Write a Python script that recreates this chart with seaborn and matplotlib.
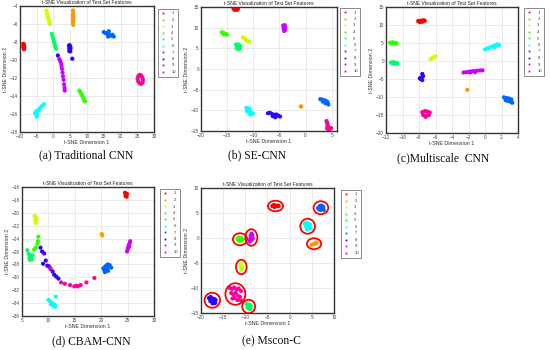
import numpy as np
import pandas as pd
import matplotlib
matplotlib.use("Agg")
import matplotlib.pyplot as plt
from matplotlib.patches import Ellipse
from matplotlib.lines import Line2D
import seaborn as sns

sns.set_theme(style="white")
plt.rcParams['font.family'] = ['Liberation Sans', 'DejaVu Sans']

class_labels = ['1', '2', '3', '4', '5', '6', '7', '8', '9', '10']
class_colors = ['#ff0000', '#ff9900', '#ccff00', '#33ff00', '#00ff66',
                '#00ffff', '#0066ff', '#3300ff', '#cc00ff', '#ff0099']

panel_titles = ['(a) Traditional CNN', '(b) SE-CNN', '(c)Multiscale  CNN', '(d) CBAM-CNN', '(e) Mscon-C']
plot_title = 't-SNE Visualization of Test Set Features'
x_label = 't-SNE Dimension 1'
y_label = 't-SNE Dimension 2'

# ---------- (a) Traditional CNN ----------
trad_x = [
    [-9.0, -8.8, -8.9, -8.7, -9.0, -8.8, -8.9],
    [5.8, 5.9, 5.8, 5.9, 5.8, 5.9, 5.8, 5.9],
    [-2.1, -2.0, -1.85, -1.7, -1.55, -1.4, -1.25, -1.1],
    [7.7, 7.95, 8.2, 8.45, 8.7, 8.95, 9.2, 9.4],
    [-0.5, -0.3, -0.1, 0.05, 0.2, 0.35, 0.5, 0.7],
    [-5.5, -5.2, -4.9, -4.6, -5.1, -4.8, -4.3, -3.9, -3.4, -2.8, -5.0],
    [15.0, 15.5, 16.0, 16.5, 16.8, 17.2, 17.6, 18.0, 16.3],
    [4.6, 4.8, 5.0, 4.7, 4.9, 5.1, 4.7, 5.0, 1.3, 5.6],
    [1.75, 2.0, 2.3, 2.4, 2.55, 2.7, 2.85, 3.0, 3.15, 3.3, 3.35],
    [25.1, 25.3, 25.7, 26.1, 26.5, 26.7, 26.6, 26.2, 25.8, 25.3],
]
trad_y = [
    [-8.2, -8.3, -8.5, -8.6, -8.6, -8.8, -8.4],
    [-4.5, -4.8, -5.0, -5.2, -5.4, -5.6, -5.8, -6.1],
    [-4.5, -4.7, -4.95, -5.2, -5.4, -5.6, -5.8, -6.0],
    [-13.4, -13.55, -13.7, -13.85, -14.05, -14.25, -14.45, -14.6],
    [-7.1, -7.35, -7.6, -7.85, -8.05, -8.25, -8.5, -8.75],
    [-15.9, -15.7, -15.8, -15.6, -16.1, -16.0, -15.5, -15.3, -15.1, -14.9, -16.3],
    [-6.9, -7.0, -7.1, -6.8, -7.2, -7.3, -7.2, -7.4, -7.4],
    [-8.4, -8.35, -8.5, -8.7, -8.8, -8.7, -9.0, -9.05, -9.5, -9.85],
    [-9.9, -10.1, -10.4, -10.7, -11.0, -11.4, -11.8, -12.2, -12.7, -13.1, -13.4],
    [-12.1, -11.8, -11.65, -11.7, -11.9, -12.2, -12.5, -12.65, -12.6, -12.4],
]

# ---------- (b) SE-CNN ----------
se_x = [
    [-13.8, -13.5, -13.2, -12.95, -13.6, -13.1],
    [-0.9, -0.85],
    [-12.0, -11.8, -11.6, -11.4, -11.2, -11.0, -10.8, -11.5],
    [-16.0, -15.8, -15.6, -15.4, -15.2, -15.0, -15.7],
    [-13.3, -13.0, -12.7, -12.5, -13.2, -12.9, -12.6, -13.0],
    [-11.3, -11.0, -10.7, -11.2, -10.8, -10.4, -10.1, -10.6],
    [2.8, 3.2, 3.6, 3.9, 4.2, 3.3, 3.8, 4.35],
    [-7.2, -6.8, -6.4, -6.0, -5.6, -5.2, -4.9, -6.3, -5.8],
    [-4.3, -4.0, -3.9, -4.2, -3.9, -4.1],
    [4.0, 4.1, 4.2, 4.2, 4.4, 4.1, 4.6, 4.9, 4.5],
]
se_y = [
    [14.7, 14.8, 14.7, 14.5, 14.3, 14.3],
    [-9.1, -9.05],
    [7.7, 7.5, 7.3, 7.1, 6.9, 6.7, 6.6, 7.0],
    [8.9, 8.8, 8.6, 8.5, 8.4, 8.3, 8.4],
    [5.9, 6.0, 5.8, 5.4, 5.1, 4.8, 4.9, 5.4],
    [-9.4, -9.5, -9.7, -10.2, -10.3, -10.5, -10.8, -11.0],
    [-7.3, -7.4, -7.6, -7.7, -8.0, -7.9, -8.3, -8.6],
    [-10.7, -10.6, -10.9, -11.1, -11.0, -11.3, -11.5, -11.4, -11.7],
    [10.5, 10.6, 10.1, 9.8, 9.5, 9.2],
    [-12.6, -13.0, -13.4, -13.8, -14.1, -14.4, -14.5, -14.3, -14.8],
]

# ---------- (c) Multiscale CNN ----------
ms_x = [
    [-8.1, -7.8, -7.5, -7.3, -7.9, -7.6],
    [-2.15],
    [-6.6, -6.4, -6.2, -6.0],
    [-11.5, -11.2, -10.9, -10.7, -11.3, -10.9],
    [-11.4, -11.1, -10.8, -10.6, -11.2, -10.9],
    [0.0, 0.3, 0.6, 0.9, 1.1, 1.3, 1.5, 1.7, 1.2],
    [2.3, 2.6, 2.9, 3.2, 2.5, 2.8, 3.1, 3.3],
    [-7.6, -7.5, -7.7, -7.8, -7.6, -7.9],
    [-2.6, -2.3, -2.0, -1.7, -1.4, -1.0, -0.6, -0.3, -1.8, -1.2],
    [-7.6, -7.3, -7.0, -6.7, -7.5, -7.1, -6.8, -7.2],
]
ms_y = [
    [11.1, 11.2, 11.3, 11.2, 10.8, 10.9],
    [-8.0],
    [0.5, 0.8, 1.0, 1.3],
    [5.1, 5.2, 5.0, 4.9, 4.8, 4.8],
    [-0.4, -0.3, -0.5, -0.7, -0.7, -0.8],
    [3.2, 3.5, 3.8, 4.0, 4.2, 4.4, 4.6, 4.4, 3.9],
    [-10.1, -10.3, -10.4, -10.7, -10.9, -11.1, -11.3, -11.6],
    [-3.6, -4.2, -4.6, -5.0, -5.3, -4.8],
    [-3.2, -3.1, -3.0, -2.9, -2.8, -2.7, -2.6, -2.6, -3.2, -3.1],
    [-14.2, -13.9, -14.0, -14.3, -15.0, -15.2, -15.0, -15.5],
]

# ---------- (d) CBAM-CNN ----------
cbam_x = [
    [24.5, 24.7, 24.9, 24.6, 24.8],
    [20.1, 20.2],
    [7.4, 7.6, 7.8, 7.5, 7.7, 7.6],
    [8.1, 8.0, 7.9, 7.6, 7.3],
    [6.0, 6.3, 6.5, 6.8, 7.0, 6.4, 6.7, 6.9, 6.5],
    [10.0, 10.3, 10.6, 10.9, 11.2, 10.5, 10.9, 11.3, 11.4],
    [20.4, 20.8, 21.2, 21.6, 20.6, 21.0, 21.4, 21.9, 20.7, 21.3],
    [8.5, 8.8, 9.2, 9.5, 9.0, 9.8, 10.1, 10.4, 10.8, 11.1, 11.5, 11.9],
    [25.5, 25.4, 25.2, 25.1, 25.0, 24.9, 25.3],
    [10.4, 12.4, 13.1, 14.1, 14.9, 15.3, 15.6, 16.1, 17.2, 18.7],
]
cbam_y = [
    [-16.9, -17.0, -17.1, -17.4, -17.5],
    [-23.3, -23.5],
    [-20.5, -20.7, -20.9, -21.1, -21.3, -21.6],
    [-23.7, -24.4, -24.8, -25.4, -25.7],
    [-25.8, -26.4, -26.6, -26.7, -26.6, -27.0, -27.1, -27.2, -27.3],
    [-33.5, -33.7, -33.9, -34.1, -34.3, -34.2, -34.4, -34.6, -33.0],
    [-28.6, -28.3, -28.0, -28.1, -28.9, -28.7, -28.4, -28.5, -29.2, -29.0],
    [-25.4, -26.0, -26.3, -27.4, -27.9, -28.2, -28.3, -28.7, -29.1, -29.6, -29.9, -30.2],
    [-24.4, -24.7, -25.0, -25.4, -25.7, -26.0, -25.2],
    [-28.6, -30.8, -31.0, -31.2, -31.4, -31.3, -31.4, -31.2, -30.8, -30.1],
]

# ---------- (e) Mscon-C ----------
mscon_x = [
    [-3.9, -3.6, -3.3, -3.0, -2.7, -2.5, -3.4],
    [4.9, 5.2, 5.5, 5.8, 6.1],
    [-11.1, -10.9, -10.7, -11.0, -10.8, -10.9],
    [-11.8, -11.5, -11.2, -10.9, -10.6, -11.4, -11.0],
    [-9.7, -9.4, -9.1, -8.8, -9.5, -9.2, -8.9],
    [3.4, 3.8, 4.2, 4.6, 3.6, 4.0, 4.4, 4.7, 3.9],
    [6.4, 6.8, 7.2, 7.6, 6.6, 7.0, 7.4, 7.7],
    [-18.2, -17.8, -17.4, -17.0, -16.7, -17.9, -17.5, -17.1, -16.8, -17.4],
    [-8.6, -8.4, -8.8, -8.5, -8.9, -8.6, -8.3, -9.0],
    [-13.5, -13.0, -12.5, -12.0, -11.5, -11.0, -13.2, -12.7, -12.2, -11.7, -11.2, -12.5, -11.8, -12.9, -11.0],
]
mscon_y = [
    [6.4, 6.6, 6.5, 6.4, 6.5, 6.4, 6.2],
    [-1.4, -1.3, -1.2, -1.05, -0.9],
    [-5.2, -5.5, -5.8, -6.0, -6.2, -6.4],
    [-0.2, 0.1, -0.1, 0.0, -0.3, -0.6, -0.5],
    [-13.2, -13.4, -13.3, -13.5, -13.9, -14.1, -14.2],
    [2.9, 3.0, 2.8, 2.7, 2.3, 2.2, 2.4, 1.9, 1.7],
    [6.0, 6.4, 6.5, 6.2, 5.7, 5.6, 5.9, 5.6],
    [-12.0, -11.8, -12.1, -12.2, -12.4, -12.6, -12.8, -12.7, -13.0, -13.1],
    [0.9, 0.6, 0.4, 0.1, -0.2, -0.4, -0.1, -0.7],
    [-10.0, -10.2, -9.9, -10.3, -10.1, -10.6, -11.0, -11.3, -11.0, -11.5, -11.8, -12.0, -12.4, -12.1, -12.5],
]

# axis ranges and ticks per panel
x_limits = [(-10, 30), (-20, 6), (-12, 4), (5, 30), (-20, 10)]
y_limits = [(-18, -4), (-15, 15), (-20, 15), (-36, -16), (-15, 10)]
x_ticks = [np.arange(-10, 31, 5), np.arange(-20, 6, 5), np.arange(-12, 5, 2),
           np.arange(5, 31, 5), np.arange(-20, 11, 5)]
y_ticks = [np.arange(-18, -3, 2), np.arange(-15, 16, 5), np.arange(-20, 16, 5),
           np.arange(-36, -15, 2), np.arange(-15, 11, 5)]

panels_x = [trad_x, se_x, ms_x, cbam_x, mscon_x]
panels_y = [trad_y, se_y, ms_y, cbam_y, mscon_y]

def to_frame(xs, ys):
    rows = []
    for lab, px, py in zip(class_labels, xs, ys):
        for a, b in zip(px, py):
            rows.append((a, b, lab))
    return pd.DataFrame(rows, columns=['x', 'y', 'cls'])

W, H = 550, 350
fig = plt.figure(figsize=(5.5, 3.5), dpi=100)
fig.patch.set_facecolor('white')

# pixel boxes: left, top, right, bottom
axes_px = [(20, 6, 154, 132), (201, 7, 337, 131), (386, 7, 518, 133),
           (22, 187, 154, 316), (201, 188, 334, 313)]
legend_px = [(158, 9), (340, 8), (524, 8), (160, 189), (341, 190)]
caption_px = [(86, 155), (257, 155), (443, 158), (91, 341), (271, 341)]

palette = dict(zip(class_labels, class_colors))

for i in range(5):
    l, t, r, b = axes_px[i]
    ax = fig.add_axes([l / W, 1 - b / H, (r - l) / W, (b - t) / H])
    df = to_frame(panels_x[i], panels_y[i])
    sns.scatterplot(data=df, x='x', y='y', hue='cls', palette=palette,
                    hue_order=class_labels, s=9, linewidth=0, legend=False, ax=ax)
    ax.set_xlim(*x_limits[i])
    ax.set_ylim(*y_limits[i])
    ax.set_xticks(x_ticks[i])
    ax.set_yticks(y_ticks[i])
    ax.grid(True, color='#e3e3e3', linewidth=0.5)
    ax.set_axisbelow(True)
    ax.tick_params(labelsize=3.4, colors='#444444', length=1.5, width=0.4,
                   direction='in', pad=1.5)
    for sp in ax.spines.values():
        sp.set_color('#333333')
        sp.set_linewidth(1.0)
    ax.set_xlabel(x_label, fontsize=3.8, color='#333333', labelpad=1)
    ax.set_ylabel(y_label, fontsize=3.8, color='#333333', labelpad=1)
    ax.set_title(plot_title, fontsize=3.6, color='#222222', pad=1.5)

    if i == 4:
        for px, py in zip(panels_x[i], panels_y[i]):
            cx = (min(px) + max(px)) / 2
            cy = (min(py) + max(py)) / 2
            w = max(px) - min(px) + 2.0
            h = max(py) - min(py) + 1.7
            ax.add_patch(Ellipse((cx, cy), w, h, fill=False, edgecolor='#ff0000',
                                 linewidth=1.3, zorder=5))

    handles = [Line2D([0], [0], marker='s', linestyle='none', markersize=1.3,
                      markerfacecolor=c, markeredgewidth=0) for c in class_colors]
    lx, ly = legend_px[i]
    leg = fig.legend(handles, class_labels, loc='upper left',
                     bbox_to_anchor=(lx / W, 1 - ly / H), bbox_transform=fig.transFigure,
                     fontsize=3, frameon=True, fancybox=False, borderpad=0.6,
                     labelspacing=0.6, handlelength=1.2, handletextpad=1.4,
                     borderaxespad=0)
    leg.get_frame().set_edgecolor('#555555')
    leg.get_frame().set_linewidth(0.6)
    for txt in leg.get_texts():
        txt.set_color('#333333')

    cx, cy = caption_px[i]
    fig.text(cx / W, 1 - cy / H, panel_titles[i], ha='center', va='center',
             fontsize=8.4, family=['Liberation Serif', 'DejaVu Serif'], color='#111111')

fig.savefig('out.png', dpi=100)
